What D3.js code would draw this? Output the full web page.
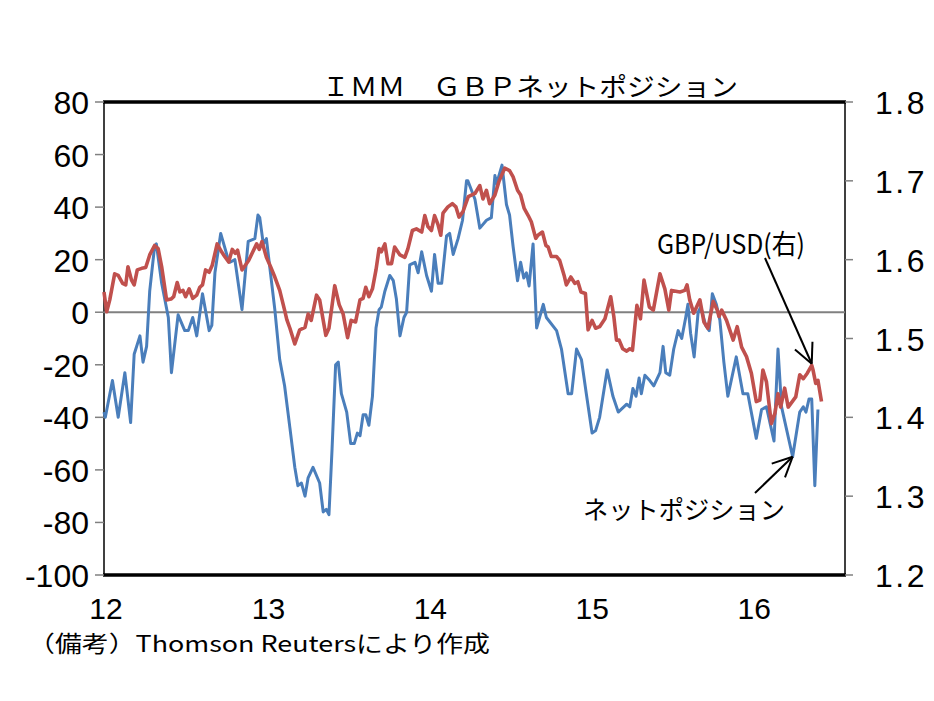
<!DOCTYPE html>
<html><head><meta charset="utf-8">
<script src="https://cdn.jsdelivr.net/npm/d3@7"></script>
<style>body{margin:0;background:#fff}</style>
</head><body><svg id="c" width="934" height="701"></svg>
<script>
const posDates = ["2012-01-01","2012-01-04","2012-01-20","2012-02-02","2012-02-17","2012-03-01","2012-03-09","2012-03-22","2012-03-29","2012-04-06","2012-04-13","2012-04-24","2012-04-28","2012-05-10","2012-05-25","2012-06-01","2012-06-16","2012-07-01","2012-07-09","2012-07-19","2012-07-28","2012-08-10","2012-08-25","2012-08-31","2012-09-07","2012-09-20","2012-10-07","2012-10-11","2012-10-22","2012-11-07","2012-11-21","2012-12-06","2012-12-13","2012-12-17","2012-12-25","2013-01-01","2013-01-20","2013-01-31","2013-02-11","2013-02-23","2013-03-06","2013-03-13","2013-03-21","2013-03-29","2013-04-05","2013-04-16","2013-05-01","2013-05-09","2013-05-16","2013-05-22","2013-05-29","2013-06-06","2013-06-12","2013-06-19","2013-07-01","2013-07-10","2013-07-18","2013-07-25","2013-07-31","2013-08-07","2013-08-13","2013-08-20","2013-08-28","2013-09-05","2013-09-12","2013-09-17","2013-09-25","2013-10-06","2013-10-14","2013-10-21","2013-10-29","2013-11-07","2013-11-13","2013-11-20","2013-12-02","2013-12-09","2013-12-17","2013-12-28","2014-01-08","2014-01-15","2014-01-23","2014-01-31","2014-02-11","2014-02-18","2014-02-26","2014-03-09","2014-03-19","2014-03-28","2014-03-31","2014-04-16","2014-04-27","2014-05-12","2014-05-23","2014-05-31","2014-06-04","2014-06-16","2014-06-26","2014-07-03","2014-07-11","2014-07-21","2014-07-28","2014-08-04","2014-08-10","2014-08-16","2014-08-25","2014-09-02","2014-09-17","2014-09-24","2014-10-17","2014-10-28","2014-11-12","2014-11-20","2014-12-01","2014-12-12","2014-12-23","2015-01-05","2015-01-13","2015-01-22","2015-02-08","2015-02-21","2015-03-05","2015-03-24","2015-03-31","2015-04-07","2015-04-14","2015-04-21","2015-04-26","2015-05-04","2015-05-15","2015-05-24","2015-06-07","2015-06-14","2015-06-20","2015-06-29","2015-07-08","2015-07-18","2015-07-26","2015-08-04","2015-08-09","2015-08-15","2015-08-23","2015-09-01","2015-09-07","2015-09-18","2015-09-26","2015-10-03","2015-10-12","2015-10-20","2015-10-29","2015-11-07","2015-11-26","2015-12-11","2015-12-22","2016-01-10","2016-01-22","2016-02-02","2016-02-19","2016-02-28","2016-03-07","2016-04-01","2016-04-17","2016-04-25","2016-05-01","2016-05-08","2016-05-14","2016-05-21","2016-05-28"];
const posValues = [-38,-40,-26,-40,-23,-42,-16,-9,-19,-13,8,25,26,11,-2,-23,-1,-7,-7,-2,-9,7,-7,-5,15,30,20,19,20,1,27,28,37,36,26,28,1,-18,-28,-44,-59,-66,-65,-70,-63,-59,-65,-76,-75,-77,-52,-20,-19,-31,-38,-50,-50,-46,-47,-39,-39,-43,-32,-6,1,2,8,14,12,5,-9,-2,0,18,19,15,23,14,8,22,11,11,29,30,22,28,35,50,50,43,32,35,36,52,49,56,41,37,25,12,19,13,15,10,26,-6,3,-2,-7,-14,-31,-31,-14,-18,-31,-46,-45,-40,-22,-32,-38,-35,-36,-29,-32,-25,-31,-24,-26,-28,-23,-13,-23,-24,-14,-7,-10,-2,3,-8,-17,0,2,-5,-7,7,3,-3,-19,-32,-17,-31,-31,-48,-37,-36,-49,-14,-36,-55,-38,-36,-38,-33,-33,-66,-37];

const fxDates = ["2012-01-01","2012-01-07","2012-01-14","2012-01-25","2012-02-02","2012-02-12","2012-02-19","2012-02-24","2012-03-03","2012-03-09","2012-03-16","2012-03-26","2012-04-04","2012-04-13","2012-04-24","2012-05-02","2012-05-10","2012-05-21","2012-05-31","2012-06-06","2012-06-14","2012-06-20","2012-06-27","2012-07-03","2012-07-11","2012-07-19","2012-07-28","2012-08-04","2012-08-10","2012-08-17","2012-08-25","2012-09-01","2012-09-12","2012-09-22","2012-09-29","2012-10-08","2012-10-16","2012-10-23","2012-10-28","2012-11-07","2012-11-22","2012-12-10","2012-12-16","2012-12-22","2013-01-01","2013-01-09","2013-01-20","2013-01-31","2013-02-11","2013-02-16","2013-02-23","2013-03-06","2013-03-17","2013-03-29","2013-04-05","2013-04-12","2013-04-24","2013-05-01","2013-05-15","2013-05-22","2013-06-04","2013-06-14","2013-06-23","2013-07-03","2013-07-11","2013-07-21","2013-07-31","2013-08-07","2013-08-13","2013-08-20","2013-08-28","2013-09-05","2013-09-12","2013-09-17","2013-09-25","2013-10-02","2013-10-10","2013-10-17","2013-10-29","2013-11-09","2013-11-16","2013-11-26","2013-12-05","2013-12-17","2013-12-24","2013-12-31","2014-01-08","2014-01-15","2014-01-23","2014-01-29","2014-02-03","2014-02-14","2014-02-24","2014-03-04","2014-03-11","2014-03-20","2014-04-01","2014-04-16","2014-04-27","2014-05-04","2014-05-12","2014-05-19","2014-05-31","2014-06-09","2014-06-22","2014-07-03","2014-07-11","2014-07-21","2014-07-28","2014-08-05","2014-08-14","2014-08-21","2014-08-31","2014-09-05","2014-09-15","2014-09-23","2014-09-28","2014-10-05","2014-10-17","2014-10-24","2014-11-03","2014-11-08","2014-11-18","2014-11-27","2014-12-04","2014-12-11","2014-12-21","2014-12-27","2015-01-05","2015-01-13","2015-01-22","2015-02-03","2015-02-16","2015-02-23","2015-03-01","2015-03-07","2015-03-15","2015-03-24","2015-03-31","2015-04-06","2015-04-16","2015-04-24","2015-05-02","2015-05-14","2015-05-23","2015-06-07","2015-06-18","2015-06-27","2015-07-03","2015-07-22","2015-08-02","2015-08-07","2015-08-13","2015-08-22","2015-09-05","2015-09-14","2015-09-23","2015-10-05","2015-10-14","2015-10-18","2015-10-24","2015-11-04","2015-11-19","2015-11-28","2015-12-08","2015-12-19","2015-12-30","2016-01-10","2016-01-18","2016-01-25","2016-02-02","2016-02-13","2016-02-21","2016-02-28","2016-03-05","2016-03-14","2016-03-22","2016-04-08","2016-04-17","2016-04-25","2016-05-04","2016-05-14","2016-05-17","2016-05-23","2016-05-28","2016-06-05"];
const fxValues = [1.559,1.534,1.549,1.582,1.580,1.570,1.568,1.591,1.574,1.568,1.587,1.589,1.590,1.606,1.618,1.614,1.591,1.549,1.550,1.553,1.571,1.559,1.561,1.553,1.563,1.551,1.555,1.565,1.568,1.587,1.584,1.593,1.620,1.610,1.604,1.597,1.613,1.608,1.612,1.587,1.599,1.620,1.613,1.623,1.603,1.593,1.578,1.561,1.536,1.524,1.513,1.493,1.511,1.514,1.531,1.523,1.555,1.549,1.504,1.513,1.567,1.543,1.531,1.501,1.523,1.521,1.549,1.551,1.565,1.553,1.563,1.587,1.614,1.610,1.620,1.595,1.595,1.616,1.606,1.603,1.614,1.637,1.639,1.635,1.656,1.642,1.637,1.656,1.644,1.631,1.659,1.667,1.671,1.667,1.654,1.661,1.680,1.684,1.694,1.677,1.688,1.671,1.682,1.699,1.716,1.713,1.705,1.688,1.682,1.665,1.656,1.648,1.627,1.631,1.635,1.618,1.616,1.604,1.604,1.599,1.580,1.568,1.578,1.570,1.572,1.559,1.557,1.511,1.523,1.513,1.515,1.525,1.553,1.528,1.498,1.498,1.487,1.484,1.487,1.485,1.542,1.525,1.574,1.540,1.536,1.582,1.563,1.536,1.561,1.559,1.561,1.568,1.549,1.532,1.549,1.521,1.513,1.547,1.536,1.528,1.536,1.523,1.498,1.515,1.489,1.477,1.456,1.420,1.422,1.460,1.445,1.392,1.405,1.430,1.413,1.437,1.413,1.426,1.454,1.449,1.456,1.466,1.460,1.443,1.447,1.420];

const leftTicks = [80,60,40,20,0,-20,-40,-60,-80,-100];
const rightTicks = [1.8,1.7,1.6,1.5,1.4,1.3,1.2];
const xTickDates = ["2012-01-01","2013-01-01","2014-01-01","2015-01-01","2016-01-01"];
const xTickLabels = ["12","13","14","15","16"];

const svg = d3.select("#c");
const L = 104, R = 845, T = 102, B = 575;
const parse = d3.utcParse("%Y-%m-%d");
const x = d3.scaleUtc().domain([parse("2012-01-01"), parse("2016-07-28")]).range([L, R]);
const yL = d3.scaleLinear().domain([-100, 80]).range([B, T]);
const yR = d3.scaleLinear().domain([1.2, 1.8]).range([B, T]);
const numFont = "'Liberation Sans', Arial, sans-serif";
const jpFont = "'Noto Sans CJK JP', 'Liberation Sans', sans-serif";

svg.append("rect").attr("width", 934).attr("height", 701).attr("fill", "#fff");

// plot border
svg.append("rect").attr("x", L).attr("y", T).attr("width", R - L).attr("height", B - T)
  .attr("fill", "#fff").attr("stroke", "#404040").attr("stroke-width", 2);
svg.append("line").attr("x1", L - 1).attr("x2", R + 1).attr("y1", T).attr("y2", T).attr("stroke", "#000").attr("stroke-width", 3.5);
svg.append("line").attr("x1", L - 1).attr("x2", R + 1).attr("y1", B).attr("y2", B).attr("stroke", "#000").attr("stroke-width", 3.5);

// left ticks
leftTicks.forEach(v => {
  svg.append("line").attr("x1", L - 9).attr("x2", L).attr("y1", yL(v)).attr("y2", yL(v)).attr("stroke", "#808080").attr("stroke-width", 1.5);
  svg.append("text").attr("x", 89).attr("y", yL(v) + 12).attr("text-anchor", "end")
    .attr("font-family", numFont).attr("font-size", 32).attr("fill", "#000").text(v);
});
// right ticks
rightTicks.forEach(v => {
  svg.append("line").attr("x1", R).attr("x2", R + 8).attr("y1", yR(v)).attr("y2", yR(v)).attr("stroke", "#808080").attr("stroke-width", 1.5);
  svg.append("text").attr("x", 875).attr("y", yR(v) + 12).attr("text-anchor", "start")
    .attr("font-family", numFont).attr("font-size", 32).attr("letter-spacing", 2.5).attr("fill", "#000").text(v.toFixed(1));
});
// x labels
xTickDates.forEach((d, i) => {
  svg.append("text").attr("x", x(parse(d)) + 2).attr("y", 619).attr("text-anchor", "middle")
    .attr("font-family", numFont).attr("font-size", 30).attr("fill", "#000").text(xTickLabels[i]);
});

// zero line
svg.append("line").attr("x1", L).attr("x2", R).attr("y1", yL(0)).attr("y2", yL(0)).attr("stroke", "#808080").attr("stroke-width", 2);

const posData = posDates.map((d, i) => ({ d: parse(d), v: posValues[i] }));
const fxData = fxDates.map((d, i) => ({ d: parse(d), v: fxValues[i] }));

svg.append("path").datum(posData)
  .attr("d", d3.line().x(p => x(p.d)).y(p => yL(p.v)))
  .attr("fill", "none").attr("stroke", "#4a7ebb").attr("stroke-width", 3).attr("stroke-linejoin", "round");
svg.append("path").datum(fxData)
  .attr("d", d3.line().x(p => x(p.d)).y(p => yR(p.v)))
  .attr("fill", "none").attr("stroke", "#c0504d").attr("stroke-width", 3.6).attr("stroke-linejoin", "round");

// title
svg.append("text").attr("x", 322).attr("y", 96).attr("font-family", jpFont).attr("font-size", 25)
  .attr("textLength", 416).attr("lengthAdjust", "spacingAndGlyphs").attr("fill", "#000")
  .text("ＩＭＭ　ＧＢＰネットポジション");

// annotations
function arrow(x1, y1, x2, y2) {
  svg.append("line").attr("x1", x1).attr("y1", y1).attr("x2", x2).attr("y2", y2).attr("stroke", "#000").attr("stroke-width", 2);
  const a = Math.atan2(y2 - y1, x2 - x1), len = 22, sp = 0.45;
  [a + Math.PI - sp, a + Math.PI + sp].forEach(b => {
    svg.append("line").attr("x1", x2).attr("y1", y2).attr("x2", x2 + len * Math.cos(b)).attr("y2", y2 + len * Math.sin(b))
      .attr("stroke", "#000").attr("stroke-width", 2);
  });
}
svg.append("text").attr("x", 657).attr("y", 254).attr("font-family", jpFont).attr("font-size", 27)
  .attr("textLength", 148).attr("lengthAdjust", "spacingAndGlyphs").attr("fill", "#000").text("GBP/USD(右)");
arrow(765, 258, x(parse("2016-05-14")), yR(1.468));

svg.append("text").attr("x", 583).attr("y", 519).attr("font-family", jpFont).attr("font-size", 25)
  .attr("textLength", 202).attr("lengthAdjust", "spacingAndGlyphs").attr("fill", "#000").text("ネットポジション");
arrow(755, 493, x(parse("2016-04-01")), yL(-55));

// footnote
svg.append("text").attr("x", 28).attr("y", 652).attr("font-family", jpFont).attr("font-size", 22.5)
  .attr("textLength", 462).attr("lengthAdjust", "spacingAndGlyphs").attr("fill", "#000")
  .text("（備考）Thomson Reutersにより作成");
</script></body></html>
